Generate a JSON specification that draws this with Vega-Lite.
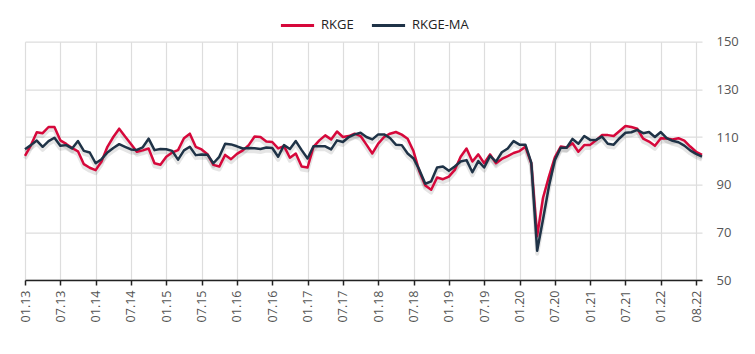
{
  "$schema": "https://vega.github.io/schema/vega-lite/v6.json",
  "width": 677,
  "height": 238.3,
  "autosize": {"type": "none"},
  "padding": {"left": 25, "top": 41.7, "right": 53, "bottom": 74},
  "background": "white",
  "config": {
    "font": "Open Sans",
    "view": {"stroke": null},
    "axis": {"gridColor": "#dddddd", "gridWidth": 1.2, "title": null}
  },
  "data": {
    "values": [
      {"m":"01.13","i":0,"RKGE":102.1,"RKGE-MA":104.9},
      {"m":"02.13","i":1,"RKGE":106.5,"RKGE-MA":106.6},
      {"m":"03.13","i":2,"RKGE":112.0,"RKGE-MA":108.5},
      {"m":"04.13","i":3,"RKGE":111.6,"RKGE-MA":105.9},
      {"m":"05.13","i":4,"RKGE":114.2,"RKGE-MA":108.3},
      {"m":"06.13","i":5,"RKGE":114.2,"RKGE-MA":109.7},
      {"m":"07.13","i":6,"RKGE":108.6,"RKGE-MA":106.3},
      {"m":"08.13","i":7,"RKGE":107.1,"RKGE-MA":106.6},
      {"m":"09.13","i":8,"RKGE":105.4,"RKGE-MA":105.2},
      {"m":"10.13","i":9,"RKGE":104.0,"RKGE-MA":108.3},
      {"m":"11.13","i":10,"RKGE":98.6,"RKGE-MA":104.2},
      {"m":"12.13","i":11,"RKGE":97.1,"RKGE-MA":103.5},
      {"m":"01.14","i":12,"RKGE":96.1,"RKGE-MA":99.0},
      {"m":"02.14","i":13,"RKGE":99.7,"RKGE-MA":100.7},
      {"m":"03.14","i":14,"RKGE":105.9,"RKGE-MA":103.5},
      {"m":"04.14","i":15,"RKGE":110.0,"RKGE-MA":105.4},
      {"m":"05.14","i":16,"RKGE":113.5,"RKGE-MA":107.0},
      {"m":"06.14","i":17,"RKGE":110.2,"RKGE-MA":105.9},
      {"m":"07.14","i":18,"RKGE":107.1,"RKGE-MA":104.8},
      {"m":"08.14","i":19,"RKGE":103.8,"RKGE-MA":104.6},
      {"m":"09.14","i":20,"RKGE":104.4,"RKGE-MA":105.7},
      {"m":"10.14","i":21,"RKGE":105.2,"RKGE-MA":109.3},
      {"m":"11.14","i":22,"RKGE":99.0,"RKGE-MA":104.5},
      {"m":"12.14","i":23,"RKGE":98.4,"RKGE-MA":105.0},
      {"m":"01.15","i":24,"RKGE":101.7,"RKGE-MA":104.9},
      {"m":"02.15","i":25,"RKGE":103.5,"RKGE-MA":104.2},
      {"m":"03.15","i":26,"RKGE":104.5,"RKGE-MA":100.5},
      {"m":"04.15","i":27,"RKGE":109.5,"RKGE-MA":104.4},
      {"m":"05.15","i":28,"RKGE":111.4,"RKGE-MA":105.9},
      {"m":"06.15","i":29,"RKGE":105.9,"RKGE-MA":102.4},
      {"m":"07.15","i":30,"RKGE":104.8,"RKGE-MA":102.7},
      {"m":"08.15","i":31,"RKGE":102.8,"RKGE-MA":102.6},
      {"m":"09.15","i":32,"RKGE":98.3,"RKGE-MA":99.0},
      {"m":"10.15","i":33,"RKGE":97.6,"RKGE-MA":101.7},
      {"m":"11.15","i":34,"RKGE":102.5,"RKGE-MA":107.2},
      {"m":"12.15","i":35,"RKGE":100.7,"RKGE-MA":106.9},
      {"m":"01.16","i":36,"RKGE":102.9,"RKGE-MA":106.1},
      {"m":"02.16","i":37,"RKGE":104.4,"RKGE-MA":105.2},
      {"m":"03.16","i":38,"RKGE":106.6,"RKGE-MA":105.4},
      {"m":"04.16","i":39,"RKGE":110.2,"RKGE-MA":105.3},
      {"m":"05.16","i":40,"RKGE":110.0,"RKGE-MA":105.0},
      {"m":"06.16","i":41,"RKGE":108.1,"RKGE-MA":105.6},
      {"m":"07.16","i":42,"RKGE":107.9,"RKGE-MA":105.4},
      {"m":"08.16","i":43,"RKGE":105.2,"RKGE-MA":101.7},
      {"m":"09.16","i":44,"RKGE":106.2,"RKGE-MA":106.6},
      {"m":"10.16","i":45,"RKGE":101.3,"RKGE-MA":105.0},
      {"m":"11.16","i":46,"RKGE":103.1,"RKGE-MA":108.3},
      {"m":"12.16","i":47,"RKGE":97.6,"RKGE-MA":104.5},
      {"m":"01.17","i":48,"RKGE":97.2,"RKGE-MA":101.0},
      {"m":"02.17","i":49,"RKGE":105.9,"RKGE-MA":106.1},
      {"m":"03.17","i":50,"RKGE":108.6,"RKGE-MA":106.1},
      {"m":"04.17","i":51,"RKGE":110.7,"RKGE-MA":106.1},
      {"m":"05.17","i":52,"RKGE":109.0,"RKGE-MA":104.8},
      {"m":"06.17","i":53,"RKGE":112.3,"RKGE-MA":108.6},
      {"m":"07.17","i":54,"RKGE":110.0,"RKGE-MA":107.9},
      {"m":"08.17","i":55,"RKGE":110.4,"RKGE-MA":110.0},
      {"m":"09.17","i":56,"RKGE":111.4,"RKGE-MA":111.1},
      {"m":"10.17","i":57,"RKGE":110.4,"RKGE-MA":111.8},
      {"m":"11.17","i":58,"RKGE":106.8,"RKGE-MA":110.0},
      {"m":"12.17","i":59,"RKGE":103.1,"RKGE-MA":109.0},
      {"m":"01.18","i":60,"RKGE":107.2,"RKGE-MA":111.1},
      {"m":"02.18","i":61,"RKGE":110.0,"RKGE-MA":111.1},
      {"m":"03.18","i":62,"RKGE":111.4,"RKGE-MA":109.6},
      {"m":"04.18","i":63,"RKGE":112.1,"RKGE-MA":106.8},
      {"m":"05.18","i":64,"RKGE":111.0,"RKGE-MA":106.6},
      {"m":"06.18","i":65,"RKGE":109.3,"RKGE-MA":103.1},
      {"m":"07.18","i":66,"RKGE":104.0,"RKGE-MA":101.0},
      {"m":"08.18","i":67,"RKGE":95.5,"RKGE-MA":96.2},
      {"m":"09.18","i":68,"RKGE":89.7,"RKGE-MA":90.4},
      {"m":"10.18","i":69,"RKGE":87.9,"RKGE-MA":91.4},
      {"m":"11.18","i":70,"RKGE":93.0,"RKGE-MA":97.2},
      {"m":"12.18","i":71,"RKGE":92.3,"RKGE-MA":97.6},
      {"m":"01.19","i":72,"RKGE":93.4,"RKGE-MA":95.8},
      {"m":"02.19","i":73,"RKGE":96.2,"RKGE-MA":97.6},
      {"m":"03.19","i":74,"RKGE":101.7,"RKGE-MA":99.7},
      {"m":"04.19","i":75,"RKGE":105.2,"RKGE-MA":100.3},
      {"m":"05.19","i":76,"RKGE":99.7,"RKGE-MA":95.2},
      {"m":"06.19","i":77,"RKGE":102.7,"RKGE-MA":99.9},
      {"m":"07.19","i":78,"RKGE":99.0,"RKGE-MA":97.2},
      {"m":"08.19","i":79,"RKGE":102.7,"RKGE-MA":102.1},
      {"m":"09.19","i":80,"RKGE":99.0,"RKGE-MA":99.7},
      {"m":"10.19","i":81,"RKGE":100.8,"RKGE-MA":103.6},
      {"m":"11.19","i":82,"RKGE":102.0,"RKGE-MA":105.2},
      {"m":"12.19","i":83,"RKGE":103.3,"RKGE-MA":108.3},
      {"m":"01.20","i":84,"RKGE":104.1,"RKGE-MA":106.8},
      {"m":"02.20","i":85,"RKGE":105.9,"RKGE-MA":106.8},
      {"m":"03.20","i":86,"RKGE":99.0,"RKGE-MA":99.3},
      {"m":"04.20","i":87,"RKGE":68.4,"RKGE-MA":62.3},
      {"m":"05.20","i":88,"RKGE":84.5,"RKGE-MA":75.5},
      {"m":"06.20","i":89,"RKGE":93.4,"RKGE-MA":89.3},
      {"m":"07.20","i":90,"RKGE":101.5,"RKGE-MA":100.3},
      {"m":"08.20","i":91,"RKGE":106.0,"RKGE-MA":105.5},
      {"m":"09.20","i":92,"RKGE":105.6,"RKGE-MA":105.5},
      {"m":"10.20","i":93,"RKGE":107.4,"RKGE-MA":109.2},
      {"m":"11.20","i":94,"RKGE":103.8,"RKGE-MA":107.2},
      {"m":"12.20","i":95,"RKGE":106.6,"RKGE-MA":110.4},
      {"m":"01.21","i":96,"RKGE":106.7,"RKGE-MA":108.8},
      {"m":"02.21","i":97,"RKGE":108.6,"RKGE-MA":108.8},
      {"m":"03.21","i":98,"RKGE":110.8,"RKGE-MA":110.2},
      {"m":"04.21","i":99,"RKGE":110.8,"RKGE-MA":107.2},
      {"m":"05.21","i":100,"RKGE":110.4,"RKGE-MA":106.8},
      {"m":"06.21","i":101,"RKGE":112.5,"RKGE-MA":109.5},
      {"m":"07.21","i":102,"RKGE":114.6,"RKGE-MA":111.8},
      {"m":"08.21","i":103,"RKGE":114.2,"RKGE-MA":112.0},
      {"m":"09.21","i":104,"RKGE":113.5,"RKGE-MA":113.0},
      {"m":"10.21","i":105,"RKGE":109.3,"RKGE-MA":111.6},
      {"m":"11.21","i":106,"RKGE":108.1,"RKGE-MA":112.1},
      {"m":"12.21","i":107,"RKGE":106.3,"RKGE-MA":110.0},
      {"m":"01.22","i":108,"RKGE":109.5,"RKGE-MA":112.1},
      {"m":"02.22","i":109,"RKGE":109.4,"RKGE-MA":109.5},
      {"m":"03.22","i":110,"RKGE":109.0,"RKGE-MA":108.4},
      {"m":"04.22","i":111,"RKGE":109.5,"RKGE-MA":107.8},
      {"m":"05.22","i":112,"RKGE":108.5,"RKGE-MA":106.4},
      {"m":"06.22","i":113,"RKGE":106.0,"RKGE-MA":104.4},
      {"m":"07.22","i":114,"RKGE":103.8,"RKGE-MA":102.9},
      {"m":"08.22","i":115,"RKGE":102.5,"RKGE-MA":101.8}
    ]
  },
  "transform": [{"fold": ["RKGE", "RKGE-MA"], "as": ["series", "value"]}],
  "encoding": {
    "x": {
      "field": "i",
      "type": "quantitative",
      "scale": {"domain": [0, 115], "nice": false, "zero": false},
      "axis": {
        "values": [0, 6, 12, 18, 24, 30, 36, 42, 48, 54, 60, 66, 72, 78, 84, 90, 96, 102, 108, 114],
        "labelExpr": "datum.value == 114 ? '08.22' : (datum.value % 12 == 0 ? '01.' : '07.') + (13 + floor(datum.value / 12))",
        "labelAngle": -90,
        "labelFontSize": 12.5,
        "labelColor": "#555555",
        "labelPadding": 5,
        "labelFlush": false,
        "labelOverlap": false,
        "domainColor": "#222222",
        "domainWidth": 1.5,
        "tickColor": "#222222",
        "tickWidth": 1.5,
        "tickSize": 5,
        "grid": true
      }
    },
    "y": {
      "field": "value",
      "type": "quantitative",
      "scale": {"domain": [50, 150], "nice": false, "zero": false},
      "axis": {
        "orient": "right",
        "values": [50, 70, 90, 110, 130, 150],
        "domain": false,
        "ticks": false,
        "labelPadding": 14,
        "labelFontSize": 13,
        "labelColor": "#555555",
        "grid": true
      }
    }
  },
  "layer": [
    {
      "mark": {"type": "line", "stroke": "#000000", "strokeWidth": 4, "opacity": 0.1, "yOffset": 3, "strokeJoin": "round"},
      "encoding": {"detail": {"field": "series"}}
    },
    {
      "mark": {"type": "line", "strokeWidth": 2.5, "strokeJoin": "round"},
      "encoding": {
        "color": {
          "field": "series",
          "type": "nominal",
          "scale": {"domain": ["RKGE", "RKGE-MA"], "range": ["#d6083b", "#1f3347"]},
          "legend": {
            "orient": "none",
            "legendX": 254,
            "legendY": -35,
            "direction": "horizontal",
            "title": null,
            "symbolType": "stroke",
            "symbolSize": 1100,
            "symbolStrokeWidth": 3,
            "labelFontSize": 13,
            "labelColor": "#222222",
            "labelOffset": 5,
            "columnPadding": 11,
            "padding": 0
          }
        }
      }
    }
  ]
}
